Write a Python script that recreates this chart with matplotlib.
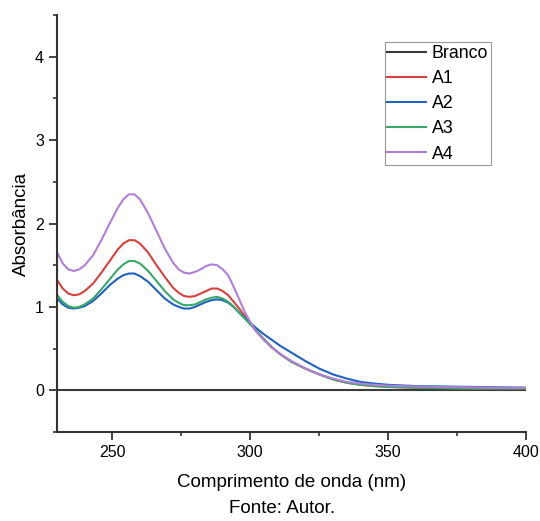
import matplotlib.pyplot as plt
from matplotlib.ticker import MultipleLocator

plt.rcParams['font.family'] = ['Liberation Sans', 'DejaVu Sans']

# comprimento de onda (nm)
wl = [230, 232, 234, 236, 238, 240, 243, 246, 249, 252, 254, 256, 258, 260, 263, 266, 269,
      272, 274, 276, 278, 280, 282, 284, 286, 288, 290, 292, 294, 296, 298, 300, 302, 305,
      308, 311, 315, 320, 325, 330, 335, 340, 345, 350, 360, 370, 380, 390, 400]

branco = [0.0] * len(wl)

a1 = [1.32, 1.22, 1.16, 1.14, 1.15, 1.19, 1.28, 1.41, 1.55, 1.69, 1.76, 1.80, 1.80, 1.76, 1.65,
      1.50, 1.36, 1.23, 1.17, 1.13, 1.12, 1.13, 1.16, 1.19, 1.22, 1.22, 1.19, 1.14, 1.06, 0.98,
      0.89, 0.80, 0.72, 0.61, 0.51, 0.43, 0.34, 0.26, 0.19, 0.13, 0.09, 0.065, 0.05, 0.04,
      0.03, 0.025, 0.02, 0.02, 0.02]

a2 = [1.10, 1.03, 0.99, 0.98, 0.99, 1.01, 1.07, 1.16, 1.26, 1.34, 1.38, 1.40, 1.40, 1.37, 1.30,
      1.20, 1.10, 1.03, 1.00, 0.98, 0.98, 1.00, 1.03, 1.06, 1.08, 1.09, 1.08, 1.05, 1.00, 0.93,
      0.87, 0.81, 0.75, 0.67, 0.60, 0.53, 0.45, 0.35, 0.26, 0.19, 0.14, 0.10, 0.08, 0.065,
      0.05, 0.045, 0.04, 0.035, 0.03]

a3 = [1.14, 1.06, 1.01, 0.99, 1.00, 1.03, 1.10, 1.21, 1.33, 1.45, 1.51, 1.55, 1.55, 1.52, 1.43,
      1.31, 1.19, 1.09, 1.05, 1.02, 1.02, 1.03, 1.06, 1.09, 1.11, 1.12, 1.10, 1.06, 1.00, 0.93,
      0.86, 0.79, 0.72, 0.61, 0.51, 0.43, 0.34, 0.26, 0.19, 0.13, 0.09, 0.065, 0.05, 0.04,
      0.03, 0.025, 0.02, 0.02, 0.02]

a4 = [1.65, 1.52, 1.45, 1.43, 1.45, 1.50, 1.62, 1.80, 2.00, 2.19, 2.29, 2.35, 2.35, 2.29, 2.12,
      1.91, 1.70, 1.53, 1.45, 1.41, 1.40, 1.42, 1.45, 1.49, 1.51, 1.50, 1.45, 1.38, 1.24, 1.09,
      0.94, 0.82, 0.71, 0.60, 0.51, 0.43, 0.35, 0.26, 0.19, 0.14, 0.10, 0.08, 0.065, 0.055,
      0.045, 0.04, 0.035, 0.03, 0.03]

fig = plt.figure(figsize=(5.4, 5.21), dpi=100)
ax = fig.add_axes([0.106, 0.171, 0.868, 0.80])

ax.plot(wl, branco, color='#3c3c3c', lw=1.5, label='Branco')
ax.plot(wl, a1, color='#d8403c', lw=1.5, label='A1')
ax.plot(wl, a2, color='#1f62c4', lw=1.5, label='A2')
ax.plot(wl, a3, color='#38a86a', lw=1.5, label='A3')
ax.plot(wl, a4, color='#b07fd8', lw=1.5, label='A4')

ax.set_xlim(230, 400)
ax.set_ylim(-0.5, 4.5)
ax.xaxis.set_major_locator(MultipleLocator(50))
ax.xaxis.set_minor_locator(MultipleLocator(25))
ax.yaxis.set_major_locator(MultipleLocator(1))
ax.yaxis.set_minor_locator(MultipleLocator(0.5))

for s in ['top', 'right']:
    ax.spines[s].set_visible(False)
for s in ['left', 'bottom']:
    ax.spines[s].set_linewidth(1.5)
    ax.spines[s].set_color('#333333')

ax.tick_params(which='major', direction='out', length=6, width=1.3, labelsize=11.5, colors='#333333')
ax.tick_params(which='minor', direction='out', length=3, width=1.2, colors='#333333')
ax.tick_params(labelcolor='black')

ax.set_xlabel('Comprimento de onda (nm)', fontsize=13.5, labelpad=10)
ax.set_ylabel('Absorbância', fontsize=13.5, labelpad=4)
fig.text(0.522, 0.015, 'Fonte: Autor.', ha='center', fontsize=13.5)

leg = ax.legend(loc='upper right', bbox_to_anchor=(0.925, 0.935), fontsize=12.8,
                fancybox=False, framealpha=1, edgecolor='#999999',
                handlelength=2.2, handletextpad=0.3, labelspacing=0.46,
                borderpad=0.15, borderaxespad=0)
leg.get_frame().set_linewidth(0.8)

fig.savefig('out.png', dpi=100)
